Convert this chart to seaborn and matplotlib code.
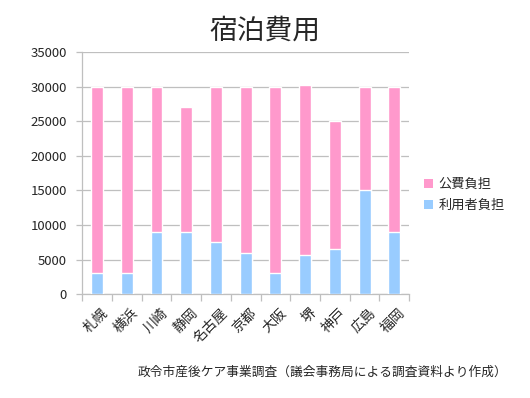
import matplotlib
matplotlib.use("Agg")
import matplotlib.pyplot as plt
import matplotlib.transforms as mtransforms
import seaborn as sns
import pandas as pd
import numpy as np
from matplotlib.patches import Patch

cities = ["札幌", "横浜", "川崎", "静岡", "名古屋", "京都", "大阪", "堺", "神戸", "広島", "福岡"]
user_cost = [3000, 3000, 9000, 9000, 7500, 6000, 3000, 5600, 6500, 15000, 9000]
public_cost = [27000, 27000, 21000, 18000, 22500, 24000, 27000, 24650, 18500, 15000, 21000]

title = "宿泊費用"
caption = "政令市産後ケア事業調査（議会事務局による調査資料より作成）"
series_names = ["公費負担", "利用者負担"]

sns.set_theme(style="white")
plt.rcParams['font.family'] = ['Noto Sans CJK JP', 'DejaVu Sans']

pink = "#FF99CC"
blue = "#99CCFF"
grid_c = "#BFBFBF"

df = pd.DataFrame({"city": cities, "user": user_cost,
                   "total": np.array(user_cost) + np.array(public_cost)})

fig = plt.figure(figsize=(5.3, 3.98), dpi=100)
ax = fig.add_axes([0.155, 0.261, 0.617, 0.608])

sns.barplot(data=df, x="city", y="total", color=pink, width=0.4, ax=ax,
            saturation=1, zorder=3)
sns.barplot(data=df, x="city", y="user", color=blue, width=0.4, ax=ax,
            saturation=1, zorder=4)

ax.set_ylim(0, 35000)
ax.set_xlim(-0.5, len(cities) - 0.5)
ax.set_yticks(np.arange(0, 35001, 5000))
ax.set_yticklabels([str(v) for v in range(0, 35001, 5000)], fontsize=9.5)
ax.yaxis.grid(True, color=grid_c, linewidth=0.9, zorder=0)
ax.set_axisbelow(True)
ax.set_xlabel("")
ax.set_ylabel("")

ax.set_xticks(range(len(cities)))
ax.set_xticklabels(cities, rotation=45, ha="right", rotation_mode="anchor", fontsize=10)
ax.tick_params(axis="x", length=0, pad=6)
offset = mtransforms.ScaledTranslation(4 / 100, -3 / 100, fig.dpi_scale_trans)
for lbl in ax.get_xticklabels():
    lbl.set_transform(lbl.get_transform() + offset)
ax.set_xticks(np.arange(-0.5, len(cities), 1), minor=True)
ax.tick_params(axis="x", which="minor", length=5, color=grid_c, width=0.9, direction="out", bottom=True)
ax.tick_params(axis="y", length=4, color=grid_c, width=0.9, left=True, pad=7)

for s in ["top", "right"]:
    ax.spines[s].set_visible(False)
for s in ["left", "bottom"]:
    ax.spines[s].set_color(grid_c)
    ax.spines[s].set_linewidth(0.9)

handles = [Patch(facecolor=pink, edgecolor="none"), Patch(facecolor=blue, edgecolor="none")]
fig.legend(handles, series_names, loc="center left", bbox_to_anchor=(0.778, 0.51),
           frameon=False, fontsize=9.5, handlelength=0.7, handleheight=0.7,
           handletextpad=0.4, labelspacing=0.6)

fig.text(0.5, 0.922, title, ha="center", va="center", fontsize=20)
fig.text(0.608, 0.065, caption, ha="center", va="center", fontsize=9.15)

fig.savefig("out.png", dpi=100, facecolor="white")
